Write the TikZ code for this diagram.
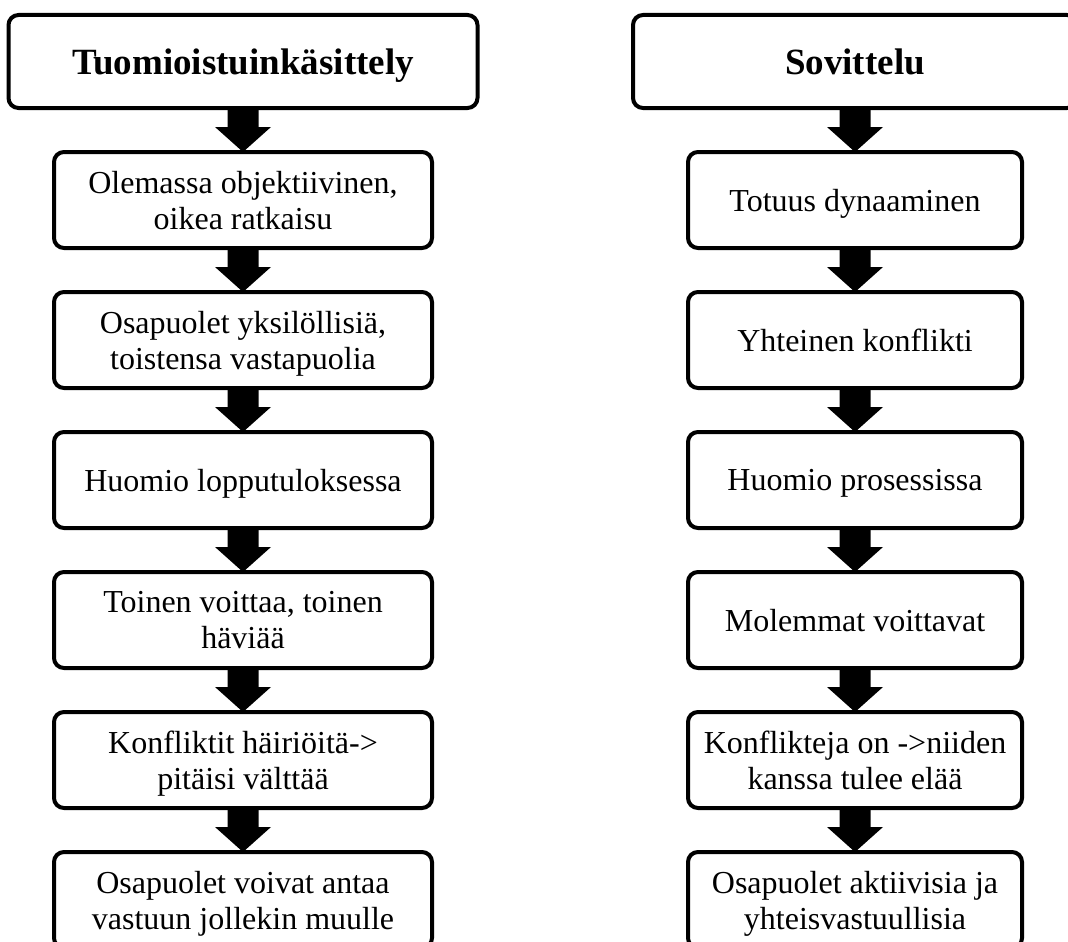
\documentclass[tikz,border=0pt]{standalone}
\usepackage{fontspec}
\setmainfont{Liberation Serif}
\usetikzlibrary{positioning,calc}
\tikzset{
  head/.style={
    draw=black,
    line width=4pt,
    rounded corners=10pt,
    align=center,
    minimum height=93pt,
    inner sep=4pt,
    outer sep=0pt,
    text depth=0pt,
    font=\fontsize{37}{41}\selectfont\bfseries
  },
  stepbox/.style={
    draw=black,
    line width=4pt,
    rounded corners=10pt,
    align=center,
    minimum height=96pt,
    inner sep=4pt,
    outer sep=0pt,
    text depth=0pt,
    font=\fontsize{32}{36}\selectfont
  },
  bigarrow/.style={
    fill=black,
    to path={let \p1=(\tikztostart), \p2=(\tikztotarget) in
      (\x2-15.5pt,\y1) -- (\x2+15.5pt,\y1) -- (\x2+15.5pt,\y2+25pt)
      -- (\x2+28pt,\y2+25pt) -- (\x2,\y2) -- (\x2-28pt,\y2+25pt)
      -- (\x2-15.5pt,\y2+25pt) -- cycle}
  }
}
\begin{document}
\begin{tikzpicture}[x=1pt, y=-1pt, node distance=44pt]
  \clip (0,0) rectangle (1068,942);
  % left column
  \node[head, minimum width=469pt] (hl) at (243,61.5) {Tuomioistuinkäsittely};
  \node[stepbox, minimum width=378pt, below=of hl] (l1) {Olemassa objektiivinen,\\oikea ratkaisu};
  \node[stepbox, minimum width=378pt, below=of l1] (l2) {Osapuolet yksilöllisiä,\\toistensa vastapuolia};
  \node[stepbox, minimum width=378pt, below=of l2] (l3) {Huomio lopputuloksessa};
  \node[stepbox, minimum width=378pt, below=of l3] (l4) {Toinen voittaa, toinen\\häviää};
  \node[stepbox, minimum width=378pt, below=of l4] (l5) {Konfliktit häiriöitä->\\pitäisi välttää};
  \node[stepbox, minimum width=378pt, below=of l5] (l6) {Osapuolet voivat antaa\\vastuun jollekin muulle};
  % right column
  \node[head, minimum width=444pt] (hr) at (855,61.5) {Sovittelu};
  \node[stepbox, minimum width=334pt, below=of hr] (r1) {Totuus dynaaminen};
  \node[stepbox, minimum width=334pt, below=of r1] (r2) {Yhteinen konflikti};
  \node[stepbox, minimum width=334pt, below=of r2] (r3) {Huomio prosessissa};
  \node[stepbox, minimum width=334pt, below=of r3] (r4) {Molemmat voittavat};
  \node[stepbox, minimum width=334pt, below=of r4] (r5) {Konflikteja on ->niiden\\kanssa tulee elää};
  \node[stepbox, minimum width=334pt, below=of r5] (r6) {Osapuolet aktiivisia ja\\yhteisvastuullisia};
  % arrows
  \path[bigarrow] (hl.south) to (l1.north);
  \path[bigarrow] (l1.south) to (l2.north);
  \path[bigarrow] (l2.south) to (l3.north);
  \path[bigarrow] (l3.south) to (l4.north);
  \path[bigarrow] (l4.south) to (l5.north);
  \path[bigarrow] (l5.south) to (l6.north);
  \path[bigarrow] (hr.south) to (r1.north);
  \path[bigarrow] (r1.south) to (r2.north);
  \path[bigarrow] (r2.south) to (r3.north);
  \path[bigarrow] (r3.south) to (r4.north);
  \path[bigarrow] (r4.south) to (r5.north);
  \path[bigarrow] (r5.south) to (r6.north);
\end{tikzpicture}
\end{document}
